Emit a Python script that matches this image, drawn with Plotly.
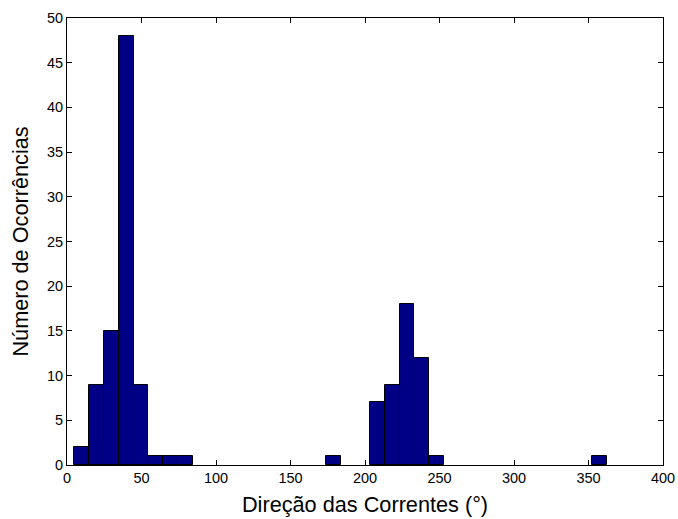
import plotly.graph_objects as go

# Histogram of current directions: 36 equal bins starting at 5 degrees
bin_start = 5.0
bin_width = 9.92
counts = [2, 9, 15, 48, 9, 1, 1, 1, 0, 0,
          0, 0, 0, 0, 0, 0, 0, 1, 0, 0,
          7, 9, 18, 12, 1, 0, 0, 0, 0, 0,
          0, 0, 0, 0, 0, 1]
x_ticks = [0, 50, 100, 150, 200, 250, 300, 350, 400]
y_ticks = [0, 5, 10, 15, 20, 25, 30, 35, 40, 45, 50]

centers = [bin_start + (i + 0.5) * bin_width for i in range(len(counts))]
# empty bins are left undrawn so their outline does not thicken the baseline
heights = [c if c > 0 else None for c in counts]

fig = go.Figure(
    go.Bar(
        x=centers,
        y=heights,
        width=bin_width,
        marker=dict(color="#000086", line=dict(color="black", width=1)),
        hoverinfo="x+y",
    )
)

font_family = "Liberation Sans, Arial, sans-serif"

axis_common = dict(
    showgrid=False,
    zeroline=False,
    showline=True,
    linecolor="black",
    linewidth=1,
    mirror="ticks",
    ticks="inside",
    ticklen=5,
    tickcolor="black",
    automargin=False,
    tickfont=dict(family=font_family, size=14.5, color="black"),
)

fig.update_layout(
    width=678,
    height=519,
    margin=dict(l=67, r=15, t=18, b=54, autoexpand=False),
    paper_bgcolor="white",
    plot_bgcolor="white",
    showlegend=False,
    bargap=0,
    xaxis=dict(
        range=[0, 400],
        tickvals=x_ticks,
        title=dict(text="Direção das Correntes (°)", standoff=11,
                   font=dict(family=font_family, size=21.7, color="black")),
        **axis_common,
    ),
    yaxis=dict(
        range=[0, 50],
        tickvals=y_ticks,
        title=dict(text="Número de Ocorrências", standoff=12,
                   font=dict(family=font_family, size=21.7, color="black")),
        **axis_common,
    ),
)

fig.write_html("out.html")
